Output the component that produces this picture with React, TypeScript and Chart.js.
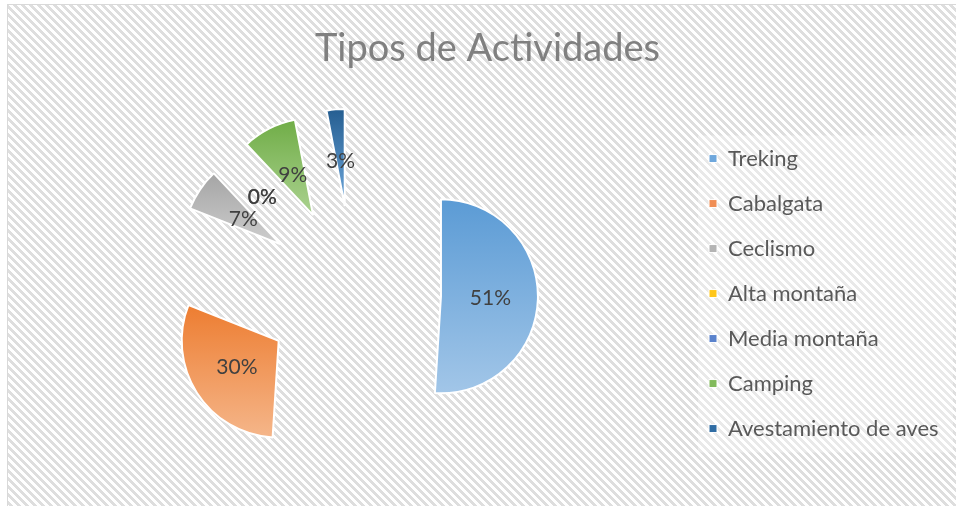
import { useEffect, useRef } from 'react';
import { Chart, registerables } from 'chart.js';

Chart.register(...registerables);

// ---- data ----
const chartTitle = 'Tipos de Actividades';
const categories = ['Treking', 'Cabalgata', 'Ceclismo', 'Alta montaña', 'Media montaña', 'Camping', 'Avestamiento de aves'];
const values = [51, 30, 7, 0, 0, 9, 3];

// ---- styles ----
const topColors = ['#5B9BD5', '#ED7D31', '#A5A5A5', '#FFC000', '#4472C4', '#70AD47', '#255E91'];
const bottomColors = ['#A2C6E8', '#F5B68A', '#CDCDCD', '#FFD966', '#8FAADC', '#ABD290', '#6FA8DC'];
const legendColors = ['#6EA7DC', '#F08E55', '#B4B4B4', '#FFC61A', '#5A82CC', '#82BA5C', '#2F6CA3'];

const W = 956;
const H = 506;
const FONT = 'Lato';
const R = 97;
const EXPLODE = 88;
const CX = 353;
const TITLE_CX = 487.5;
const LEG_FONT = 22;
const LEG_BOX = 8;
const LEG_PAD = 23;
const LEG_BOX_X = 709;

function sliceGeometry(chart: any, i: number) {
  const ca = chart.chartArea;
  const cx = (ca.left + ca.right) / 2;
  const cy = (ca.top + ca.bottom) / 2;
  const total = values.reduce((a, b) => a + b, 0);
  let cum = 0;
  for (let j = 0; j < i; j++) cum += values[j];
  const a0 = -Math.PI / 2 + (cum / total) * Math.PI * 2;
  const a1 = a0 + (values[i] / total) * Math.PI * 2;
  return { cx, cy, a0, a1 };
}

function sliceFill(c: any) {
  const chart = c.chart;
  const i = c.dataIndex;
  if (!chart.chartArea || i === undefined) return topColors[i ?? 0];
  const { cy, a0, a1 } = sliceGeometry(chart, i);
  const ys = [cy, cy + R * Math.sin(a0), cy + R * Math.sin(a1)];
  [Math.PI / 2, (3 * Math.PI) / 2, -Math.PI / 2].forEach((a) => {
    if (a > a0 && a < a1) ys.push(cy + R * Math.sin(a));
  });
  const ymin = Math.min(...ys);
  const ymax = Math.max(...ys);
  if (ymax - ymin < 1) return topColors[i];
  const g = chart.ctx.createLinearGradient(0, ymin, 0, ymax);
  g.addColorStop(0, topColors[i]);
  g.addColorStop(1, bottomColors[i]);
  return g;
}

const explodePlugin = {
  id: 'explodeAndLabels',
  afterLayout(chart: any) {
    const tb = chart.titleBlock;
    if (tb) {
      const dx = TITLE_CX - (tb.left + tb.right) / 2;
      tb.left += dx;
      tb.right += dx;
    }
  },
  beforeDraw(chart: any) {
    const lg = chart.legend;
    const hb = lg && lg.legendHitBoxes;
    if (!hb || !hb.length) return;
    const top = hb[0].top - 12;
    const bottom = hb[hb.length - 1].top + hb[hb.length - 1].height + 13;
    const left = hb[0].left - 11;
    const ctx = chart.ctx;
    ctx.save();
    ctx.fillStyle = 'rgba(255,255,255,0.35)';
    ctx.fillRect(left, top, W - 3 - left, bottom - top);
    ctx.restore();
  },
  beforeDatasetDraw(chart: any, args: any) {
    const ctx = chart.ctx;
    args.meta.data.forEach((arc: any) => {
      const mid = (arc.startAngle + arc.endAngle) / 2;
      ctx.save();
      ctx.translate(Math.cos(mid) * EXPLODE, Math.sin(mid) * EXPLODE);
      arc.draw(ctx, chart.chartArea);
      ctx.restore();
    });
    return false;
  },
  afterDatasetsDraw(chart: any) {
    const meta = chart.getDatasetMeta(0);
    const ctx = chart.ctx;
    const total = values.reduce((a, b) => a + b, 0);
    ctx.save();
    ctx.font = `21px ${FONT}`;
    ctx.fillStyle = '#404040';
    ctx.textAlign = 'center';
    ctx.textBaseline = 'middle';
    meta.data.forEach((arc: any, i: number) => {
      const mid = (arc.startAngle + arc.endAngle) / 2;
      const circ = arc.endAngle - arc.startAngle;
      const dist = EXPLODE + arc.outerRadius * (circ > Math.PI / 2 ? 0.51 : 0.46);
      const x = arc.x + Math.cos(mid) * dist;
      const y = arc.y + Math.sin(mid) * dist;
      ctx.fillText(Math.round((values[i] / total) * 100) + '%', x, y);
    });
    ctx.restore();
  },
};

export default function App() {
  const ref = useRef<HTMLCanvasElement | null>(null);

  useEffect(() => {
    if (!ref.current) return;
    const m = document.createElement('canvas').getContext('2d')!;
    m.font = `${LEG_FONT}px ${FONT}`;
    const maxW = Math.max(...categories.map((t) => m.measureText(t).width));
    const legendW = LEG_PAD + (LEG_BOX + LEG_FONT / 2 + maxW) + 10;
    const legendLeft = LEG_BOX_X - LEG_PAD;
    const pR = Math.max(0, W - legendLeft - legendW);
    const realLeft = W - pR - legendW;
    const pL = Math.max(0, 2 * CX - realLeft);

    const chart = new Chart(ref.current, {
      type: 'pie',
      data: {
        labels: categories,
        datasets: [
          {
            data: values,
            backgroundColor: sliceFill as any,
            borderColor: '#ffffff',
            borderWidth: 2,
            radius: R,
          } as any,
        ],
      },
      options: {
        responsive: false,
        animation: false,
        events: [],
        devicePixelRatio: 1,
        layout: { padding: { left: pL, right: pR, top: 0, bottom: 0 } },
        plugins: {
          tooltip: { enabled: false },
          title: {
            display: true,
            text: chartTitle,
            color: '#808080',
            font: { family: FONT, size: 38, weight: 'normal' },
            padding: { top: 25.5, bottom: 10 },
          },
          legend: {
            display: true,
            position: 'right',
            align: 'center',
            fullSize: false,
            labels: {
              font: { family: FONT, size: LEG_FONT },
              color: '#595959',
              boxWidth: LEG_BOX,
              boxHeight: LEG_BOX,
              padding: LEG_PAD,
              generateLabels: () =>
                categories.map((t, i) => ({
                  text: t,
                  fillStyle: legendColors[i],
                  strokeStyle: '#ffffff',
                  lineWidth: 1,
                  hidden: false,
                  index: i,
                  fontColor: '#595959',
                })),
            },
          },
        },
      } as any,
      plugins: [explodePlugin as any],
    });
    return () => chart.destroy();
  }, []);

  return (
    <div style={{ position: 'fixed', left: 0, top: 0, width: W, height: H, overflow: 'hidden', background: '#ffffff' }}>
      <div
        style={{
          position: 'absolute',
          left: 7,
          top: 4,
          width: 1000,
          height: 600,
          borderLeft: '1px solid #d9d9d9',
          borderTop: '1px solid #d9d9d9',
          background: 'repeating-linear-gradient(45deg, #ffffff 0px, #ffffff 2.8px, #dedede 2.8px, #dedede 5.66px)',
        }}
      />
      <canvas ref={ref} width={W} height={H} style={{ position: 'absolute', left: 0, top: 0, width: W, height: H }} />
    </div>
  );
}
